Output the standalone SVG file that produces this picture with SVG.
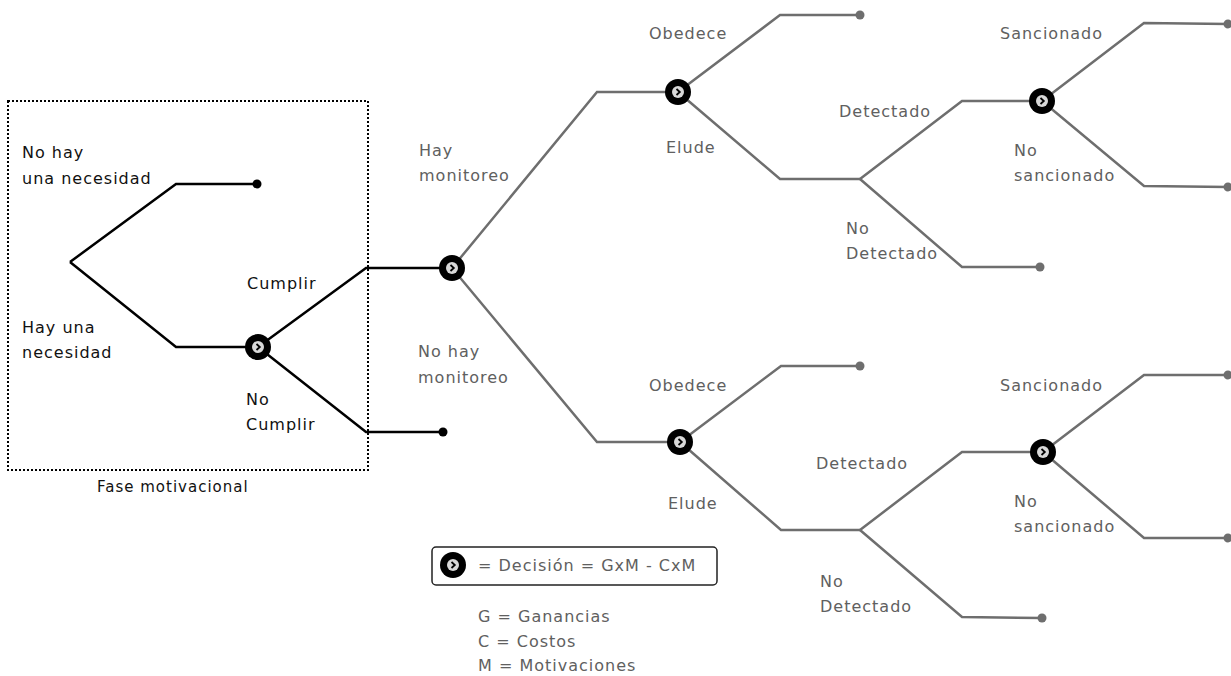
<svg xmlns="http://www.w3.org/2000/svg" xmlns:xlink="http://www.w3.org/1999/xlink" width="1231" height="676" viewBox="0 0 1231 676">
<style>
text{font-family:"DejaVu Sans","Liberation Sans",sans-serif;font-size:16px;letter-spacing:1px}
.k{fill:#111}
.g{fill:#606060}
.lk{fill:none;stroke:#000;stroke-width:2.5}
.lg{fill:none;stroke:#6e6e6e;stroke-width:2.5}
.dk{fill:#000}
.dg{fill:#6e6e6e}
</style>
<defs>
<g id="dec">
<circle r="13" fill="#000"/>
<circle r="6" fill="#d8d8d8"/>
<path d="M-1.5,-3 L1.8,0 L-1.5,3" fill="none" stroke="#000" stroke-width="1.8"/>
</g>
</defs>
<rect width="1231" height="676" fill="#fff"/>
<g id="connectors">
<path class="lk" d="M70,262 L176,184 L257,184"/>
<path class="lk" d="M70,262 L176,347 L258,347"/>
<path class="lk" d="M258,347 L366,268 L452,268"/>
<path class="lk" d="M258,347 L366,432 L443,432"/>
<path class="lg" d="M452,268 L597,92 L678,92"/>
<path class="lg" d="M452,268 L597,442 L680,442"/>
<path class="lg" d="M678,92 L780,15 L860,15"/>
<path class="lg" d="M678,92 L780,179 L860,179"/>
<path class="lg" d="M860,179 L962,101 L1042,101"/>
<path class="lg" d="M860,179 L962,267 L1040,267"/>
<path class="lg" d="M1042,101 L1144,23 L1228,24"/>
<path class="lg" d="M1042,101 L1144,186 L1228,187"/>
<path class="lg" d="M680,442 L781,366 L860,366"/>
<path class="lg" d="M680,442 L781,530 L860,530"/>
<path class="lg" d="M860,530 L962,452 L1043,452"/>
<path class="lg" d="M860,530 L962,617 L1042,618"/>
<path class="lg" d="M1043,452 L1144,375 L1228,375"/>
<path class="lg" d="M1043,452 L1144,538 L1228,538"/>
</g>
<g id="fase">
<rect x="8" y="101" width="360" height="369" fill="none" stroke="#000" stroke-width="2" stroke-dasharray="2,2"/>
<text class="k" x="97" y="492" style="font-size:15px">Fase motivacional</text>
</g>
<g id="n-no-necesidad">
<text class="k" x="22" y="158">No hay</text>
<text class="k" x="22" y="184">una necesidad</text>
<circle class="dk" cx="257" cy="184" r="4.5"/>
</g>
<g id="n-necesidad">
<text class="k" x="22" y="333">Hay una</text>
<text class="k" x="22" y="358">necesidad</text>
<use xlink:href="#dec" x="258" y="347"/>
</g>
<g id="n-cumplir">
<text class="k" x="247" y="289">Cumplir</text>
<use xlink:href="#dec" x="452" y="268"/>
</g>
<g id="n-no-cumplir">
<text class="k" x="246" y="405">No</text>
<text class="k" x="246" y="430">Cumplir</text>
<circle class="dk" cx="443" cy="432" r="4.5"/>
</g>
<g id="n-hay-monitoreo">
<text class="g" x="419" y="156">Hay</text>
<text class="g" x="419" y="181">monitoreo</text>
<use xlink:href="#dec" x="678" y="92"/>
</g>
<g id="n-obedece-1">
<text class="g" x="649" y="39">Obedece</text>
<circle class="dg" cx="860" cy="15" r="4.5"/>
</g>
<g id="n-elude-1">
<text class="g" x="666" y="153">Elude</text>
</g>
<g id="n-detectado-1">
<text class="g" x="839" y="117">Detectado</text>
<use xlink:href="#dec" x="1042" y="101"/>
</g>
<g id="n-nodetectado-1">
<text class="g" x="846" y="234">No</text>
<text class="g" x="846" y="259">Detectado</text>
<circle class="dg" cx="1040" cy="267" r="4.5"/>
</g>
<g id="n-sancionado-1">
<text class="g" x="1000" y="39">Sancionado</text>
<circle class="dg" cx="1228" cy="24" r="4.5"/>
</g>
<g id="n-nosancionado-1">
<text class="g" x="1014" y="156">No</text>
<text class="g" x="1014" y="181">sancionado</text>
<circle class="dg" cx="1228" cy="187" r="4.5"/>
</g>
<g id="n-no-hay-monitoreo">
<text class="g" x="418" y="357">No hay</text>
<text class="g" x="418" y="383">monitoreo</text>
<use xlink:href="#dec" x="680" y="442"/>
</g>
<g id="n-obedece-2">
<text class="g" x="649" y="391">Obedece</text>
<circle class="dg" cx="860" cy="366" r="4.5"/>
</g>
<g id="n-elude-2">
<text class="g" x="668" y="509">Elude</text>
</g>
<g id="n-detectado-2">
<text class="g" x="816" y="469">Detectado</text>
<use xlink:href="#dec" x="1043" y="452"/>
</g>
<g id="n-nodetectado-2">
<text class="g" x="820" y="587">No</text>
<text class="g" x="820" y="612">Detectado</text>
<circle class="dg" cx="1042" cy="618" r="4.5"/>
</g>
<g id="n-sancionado-2">
<text class="g" x="1000" y="391">Sancionado</text>
<circle class="dg" cx="1228" cy="375" r="4.5"/>
</g>
<g id="n-nosancionado-2">
<text class="g" x="1014" y="507">No</text>
<text class="g" x="1014" y="532">sancionado</text>
<circle class="dg" cx="1228" cy="538" r="4.5"/>
</g>
<g id="legend">
<rect x="432" y="547" width="285" height="38" rx="4" fill="none" stroke="#222" stroke-width="1.5"/>
<use xlink:href="#dec" x="453" y="565"/>
<text class="g" x="478" y="571">= Decisión = GxM - CxM</text>
<text class="g" x="478" y="622">G = Ganancias</text>
<text class="g" x="478" y="647">C = Costos</text>
<text class="g" x="478" y="671">M = Motivaciones</text>
</g>
</svg>
